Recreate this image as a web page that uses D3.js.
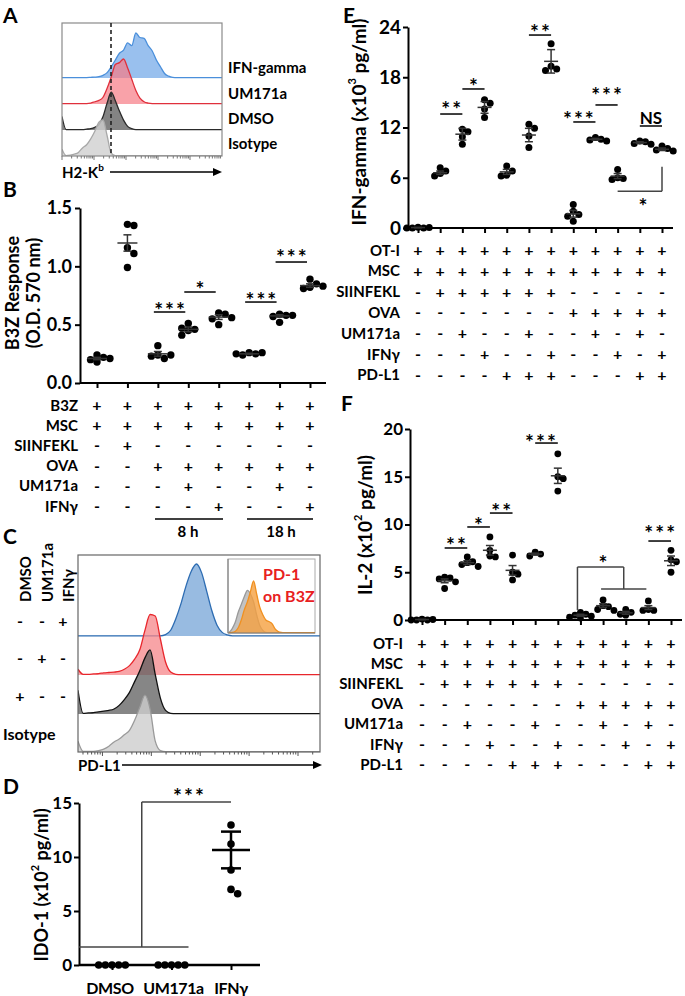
<!DOCTYPE html>
<html><head><meta charset="utf-8">
<script src="https://cdn.jsdelivr.net/npm/d3@7"></script>
<style>body{margin:0;background:#fff;}</style>
</head><body>
<svg id="c" width="685" height="996" xmlns="http://www.w3.org/2000/svg"></svg>
<script>
// ---------------- DATA ----------------
// Panel A: H2-Kb histograms (% of mode per bin)
const histA_IFNg   = [1,1,1,1,1,1,1,1.5,2,3,6,12,25,40,55,62,78,72,100,90,88,72,60,40,25,10,4,1.5,1,1,1,1,1,1,1,1,1,1,1,1];
const histA_UM171a = [1,1,1,1,1,1,1,2,5,8,15,35,60,88,92,100,80,55,30,13,5,2,1,1,1,1,1,1,1,1,1,1,1,1,1,1,1,1,1,1];
const histA_DMSO   = [30,1,1,1,1,1,2,3,6,12,30,60,84,65,42,22,8,3,1,1,1,1,1,1,1,1,1,1,1,1,1,1,1,1,1,1,1,1,1,1];
const histA_Iso    = [15,1,2,4,8,18,25,38,55,75,80,45,6,1,1,1,1,1,1,1,1,1,1,1,1,1,1,1,1,1,1,1,1,1,1,1,1,1,1,1];
const labelsA = ["IFN-gamma","UM171a","DMSO","Isotype"];

// Panel B
const rowsB = ["B3Z","MSC","SIINFEKL","OVA","UM171a","IFNγ"];
const signsB = ["++++++++","++++++++","-+------","--++++++","---+--+-","----+--+"];
const valuesB = [
  [0.24,0.22,0.20,0.18,0.21],
  [1.36,1.35,1.16,1.11,0.99],
  [0.32,0.24,0.21,0.23,0.24],
  [0.51,0.46,0.45,0.41,0.47],
  [0.60,0.59,0.55,0.50,0.56],
  [0.26,0.25,0.24,0.26,0.25],
  [0.59,0.58,0.57,0.58,0.52],
  [0.89,0.85,0.82,0.81,0.83]
];
const meansB = [0.21,1.20,0.25,0.46,0.565,0.25,0.575,0.835];
const semsB  = [0.01,0.07,0.02,0.02,0.02,0.005,0.01,0.015];
const ticksB = [0,0.5,1.0,1.5];
const sigB = [
  {a:2,b:3,line:0.608,text:0.66,t:"***"},
  {a:3,b:4,line:0.78,text:0.84,t:"*"},
  {a:5,b:6,line:0.694,text:0.745,t:"***"},
  {a:6,b:7,line:1.037,text:1.114,t:"***"}
];
const timeLabelsB = ["8 h","18 h"];

// Panel C: PD-L1 histograms
const histC_IFNg   = [0.3,0.3,0.3,0.3,0.3,0.3,0.3,0.3,0.3,0.3,0.3,0.3,0.3,0.3,0.3,0.3,0.3,2,8,24,45,70,90,100,88,62,35,15,5,1.5,0.3,0.3,0.3,0.3,0.3,0.3,0.3,0.3,0.3,0.3,0.3,0.3,0.3,0.3,0.3,0.3,0.3,0.3];
const histC_UM171a = [8,1,1,1.5,2,3,3.5,4,5,8,13,22,35,62,84,82,50,18,4,1,0.5,0.5,0.5,0.5,0.5,0.5,0.5,0.5,0.5,0.5,0.5,0.5,0.5,0.5,0.5,0.5,0.5,0.5,0.5,0.5,0.5,0.5,0.5,0.5,0.5,0.5,0.5,0.5];
const histC_DMSO   = [33,1,1.5,2,3,4,5,7,12,20,30,45,60,78,89,55,22,5,1,0.5,0.5,0.5,0.5,0.5,0.5,0.5,0.5,0.5,0.5,0.5,0.5,0.5,0.5,0.5,0.5,0.5,0.5,0.5,0.5,0.5,0.5,0.5,0.5,0.5,0.5,0.5,0.5,0.5];
const histC_Iso    = [15,1,1,1,2,4,8,14,18,24,30,44,62,79,60,15,2,0.5,0.5,0.5,0.5,0.5,0.5,0.5,0.5,0.5,0.5,0.5,0.5,0.5,0.5,0.5,0.5,0.5,0.5,0.5,0.5,0.5,0.5,0.5,0.5,0.5,0.5,0.5,0.5,0.5,0.5,0.5];
const insetC_Iso   = [1,8,20,40,55,70,82,75,60,35,15,5,1,0.5,0.5,0.5,0.5,0.5,0.5,0.5,0.5,0.5,0.5,0.5,0.5,0.5,0.5,0.5,0.5];
const insetC_PD1   = [0.5,1,3,10,25,45,60,80,100,75,50,35,25,22,18,8,3,1,0.5,0.5,0.5,0.5,0.5,0.5,0.5,0.5,0.5,0.5,0.5];
const colsC = ["DMSO","UM171a","IFNγ"];
const signsC = [["-","-","+"],["-","+","-"],["+","-","-"]];

// Panel D
const catsD = ["DMSO","UM171a","IFNγ"];
const valuesD = [[0,0,0,0,0],[0,0,0,0,0],[12.96,11.2,8.8,7.0,6.6]];
const meansD = [0,0,10.65];
const semsD  = [0,0,1.7];
const ticksD = [0,5,10,15];

// Panel E
const rowsEF = ["OT-I","MSC","SIINFEKL","OVA","UM171a","IFNγ","PD-L1"];
const signsEF = ["++++++++++++","++++++++++++","-++++++-----","-------+++++","--+--+--+-+-","---+--+--+-+","----+++---++"];
const valuesE = [
  [0.1,0,0,0.05,0],
  [7.2,6.8,6.5,6.2],
  [11.8,11.5,10.9,10.0],
  [15.3,14.9,14.2,13.2],
  [7.4,6.8,6.3,6.2],
  [12.4,11.9,11.0,9.6],
  [22.0,19.3,19.0,18.8],
  [2.8,2.0,1.6,1.4,0.8],
  [10.8,10.6,10.5,10.4],
  [7.0,6.0,5.9,5.8],
  [10.4,10.3,10.1,10.0],
  [9.8,9.5,9.3,9.2]
];
const meansE = [0.05,6.6,11.2,14.4,6.7,11.1,19.9,1.7,10.6,6.2,10.2,9.4];
const semsE  = [0.02,0.2,0.7,0.7,0.3,0.8,1.4,0.4,0.1,0.3,0.1,0.15];
const ticksE = [0,6,12,18,24];
const sigE = [
  {a:1,b:2,line:13.61,text:14.69,t:"**"},
  {a:2,b:3,line:16.6,text:17.43,t:"*"},
  {a:5,b:6,line:23.04,text:23.88,t:"**"},
  {a:7,b:8,line:12.66,text:13.49,t:"***",dx:-6},
  {a:8,b:9,line:14.69,text:16.36,t:"***"},
  {a:10,b:11,line:12.18,text:13.25,t:"NS"}
];

// Panel F
const valuesF = [
  [0.1,0,0,0.05,0],
  [4.5,4.4,4.3,4.0,3.3],
  [6.6,6.1,6.0,5.8,5.6],
  [8.7,7.3,6.7,6.6],
  [6.8,5.0,4.8,4.2],
  [7.1,6.9,6.7],
  [17.4,15.0,14.8,13.5],
  [0.8,0.6,0.5,0.4,0.3,0.2],
  [2.1,1.5,1.4,1.1,1.0],
  [1.1,0.8,0.6,0.5],
  [2.0,1.1,1.0,1.0],
  [7.3,6.3,6.1,5.0]
];
const meansF = [0.05,4.1,6.0,7.3,5.2,6.9,15.1,0.5,1.5,0.75,1.3,6.2];
const semsF  = [0.02,0.2,0.2,0.5,0.5,0.1,0.8,0.1,0.2,0.15,0.2,0.5];
const ticksF = [0,5,10,15,20];
const sigF = [
  {a:1,b:2,line:7.54,text:8.27,t:"**"},
  {a:2,b:3,line:9.74,text:10.37,t:"*"},
  {a:3,b:4,line:11.2,text:11.83,t:"**"},
  {a:5,b:6,line:18.53,text:19.06,t:"***",dx:-6},
  {a:10,b:11,line:8.27,text:9.53,t:"***"}
];

// ---------------- DRAW ----------------
const svg = d3.select("#c");
const FF = "Lato, 'Open Sans', 'DejaVu Sans', sans-serif";
function T(x,y,s,o={}){
  const t = svg.append("text").attr("x",x).attr("y",y)
    .attr("font-family",FF).attr("font-weight",700)
    .attr("font-size",o.fs||15).attr("fill",o.fill||"#000")
    .attr("text-anchor",o.anchor||"start").attr("dominant-baseline","central");
  if(o.rot!==undefined) t.attr("transform",`rotate(${o.rot},${x},${y})`);
  if(o.ls) t.attr("letter-spacing",o.ls);
  if(o.dy) t.attr("dy",o.dy);
  if(s!==null) t.text(s);
  return t;
}
function supText(t,pre,sup,post){
  t.append("tspan").text(pre);
  t.append("tspan").attr("font-size",11).attr("dy",-7).text(sup);
  t.append("tspan").attr("dy",7).text(post);
}
function L(x1,y1,x2,y2,c="#000",w=1.5){
  svg.append("line").attr("x1",x1).attr("y1",y1).attr("x2",x2).attr("y2",y2).attr("stroke",c).attr("stroke-width",w);
}
function stars(x,y,s,fs=21){
  if(s==="NS") return T(x,y,s,{fs:17,anchor:"middle"});
  return T(x+1,y,s,{fs,anchor:"middle",ls:2,dy:"0.17em"});
}
function arrow(x1,x2,y){
  L(x1,y,x2-6,y,"#000",1.5);
  svg.append("path").attr("d",`M${x2},${y} L${x2-9},${y-4} L${x2-9},${y+4} Z`).attr("fill","#000");
}
let clipId=0;
function hist(vals,x0,x1,base,hPx,fill,op,stroke,clip){
  const xs = d3.scaleLinear([0,vals.length-1],[x0,x1]);
  const ys = d3.scaleLinear([0,100],[base,base-hPx]);
  const area = d3.area().x((d,i)=>xs(i)).y0(base).y1(d=>ys(d)).curve(d3.curveMonotoneX);
  const line = d3.line().x((d,i)=>xs(i)).y(d=>ys(d)).curve(d3.curveMonotoneX);
  const g = svg.append("g").attr("clip-path",`url(#${clip})`);
  g.append("path").attr("d",area(vals)).attr("fill",fill).attr("fill-opacity",op);
  g.append("path").attr("d",line(vals)).attr("fill","none").attr("stroke",stroke).attr("stroke-width",1.3);
}
function makeClip(x,y,w,h){
  const id="clip"+(clipId++);
  svg.append("clipPath").attr("id",id).append("rect").attr("x",x).attr("y",y).attr("width",w).attr("height",h);
  return id;
}
function logTicks(scale,y,d0,d1,col){
  for(let d=d0; d<=d1; d++){
    for(let m=1;m<=9;m++){
      const v=m*Math.pow(10,d);
      const [a,b]=scale.domain();
      if(v<a||v>b) continue;
      const x=scale(v);
      L(x,y,x,y+(m===1?4:2.5),col,1);
    }
  }
}
function swarm(vals,yScale,r,k){
  const placed=[]; const step=r*k;
  const seq=[0]; for(let i=1;i<12;i++){seq.push(i,-i);}
  return vals.map(v=>{
    const y=yScale(v);
    for(const s of seq){
      const dx=s*step;
      if(placed.every(p=>Math.hypot(p.dx-dx,p.y-y)>=step-0.01)){placed.push({dx,y});return {dx,y};}
    }
    return {dx:0,y};
  });
}
function dots(values,xS,yS,r,k){
  values.forEach((vals,gi)=>{
    swarm(vals,yS,r,k).forEach(p=>{
      svg.append("circle").attr("cx",xS(gi)+p.dx).attr("cy",p.y).attr("r",r).attr("fill","#000");
    });
  });
}
function errbars(means,sems,xS,yS,mw,cw,w,col){
  means.forEach((m,gi)=>{
    const x=xS(gi);
    if(m===0&&sems[gi]===0) return;
    L(x-mw,yS(m),x+mw,yS(m),col,w);
    L(x,yS(m-sems[gi]),x,yS(m+sems[gi]),col,w);
    L(x-cw,yS(m+sems[gi]),x+cw,yS(m+sems[gi]),col,w);
    L(x-cw,yS(m-sems[gi]),x+cw,yS(m-sems[gi]),col,w);
  });
}
function yAxis(yS,x,ticks,fs,fmt,pad){
  const g=svg.append("g").attr("transform",`translate(${x},0)`)
    .call(d3.axisLeft(yS).tickValues(ticks).tickFormat(fmt).tickSize(5).tickSizeOuter(0).tickPadding(pad));
  g.selectAll("text").attr("font-size",fs).attr("font-family",FF).attr("font-weight",700).attr("fill","#000");
  g.selectAll("line").attr("stroke","#000").attr("stroke-width",2);
  g.select(".domain").attr("stroke","#000").attr("stroke-width",2);
}
function xAxis(xS,y,x0,x1,w=2){
  L(x0,y,x1,y,"#000",w);
  const g=svg.append("g").attr("transform",`translate(0,${y})`)
    .call(d3.axisBottom(xS).tickSize(5).tickSizeOuter(0).tickFormat(""));
  g.select(".domain").remove();
  g.selectAll("line").attr("stroke","#000").attr("stroke-width",2);
}
function table(rows,signs,xS,labelX,y0,dy,fs){
  rows.forEach((r,i)=>{
    const y=y0+i*dy;
    T(labelX,y,r,{fs,anchor:"end"});
    signs[i].split("").forEach((s,j)=>T(xS(j),y,s,{fs:16,anchor:"middle"}));
  });
}

// ===== Panel A =====
T(3,14,"A",{fs:21});
{
  const bx0=62,bx1=222,by0=23,by1=156;
  const clip=makeClip(bx0,by0,bx1-bx0,by1-by0);
  const bases=[78,104,130,156];
  hist(histA_IFNg,bx0,bx1,bases[0],45,"#7fb0ea",0.8,"#4a8fdb",clip);
  hist(histA_UM171a,bx0,bx1,bases[1],45,"#f77b85",0.7,"#e0303c",clip);
  hist(histA_DMSO,bx0,bx1,bases[2],45,"#5a5a5a",0.75,"#2a2a2a",clip);
  hist(histA_Iso,bx0,bx1,bases[3],45,"#cfcfcf",0.8,"#a8a8a8",clip);
  svg.append("rect").attr("x",bx0).attr("y",by0).attr("width",bx1-bx0).attr("height",by1-by0)
    .attr("fill","none").attr("stroke","#8a8a8a").attr("stroke-width",1.2);
  svg.append("line").attr("x1",111).attr("x2",111).attr("y1",by0).attr("y2",by1)
    .attr("stroke","#222").attr("stroke-width",1.6).attr("stroke-dasharray","4,3");
  const lx=d3.scaleLog().domain([1,1e5]).range([bx0,bx1]);
  logTicks(lx,by1,0,4,"#777");
  [67,93,118,143].forEach((y,i)=>T(228,y,labelsA[i],{fs:15}));
  const t=T(62,172,null,{fs:15});
  t.append("tspan").text("H2-K");
  t.append("tspan").attr("font-size",10).attr("dy",-5).text("b");
  arrow(110,222,172);
}

// ===== Panel B =====
T(3,188,"B",{fs:21});
{
  const yB=d3.scaleLinear([0,1.5],[383,208]);
  const xB=d3.scalePoint(d3.range(8),[97,310]);
  yAxis(yB,80,ticksB,18,d3.format(".1f"),3);
  xAxis(xB,383,80,326);
  T(12,293,"B3Z Response",{fs:18,anchor:"middle",rot:-90});
  T(33,293,"(O.D. 570 nm)",{fs:18,anchor:"middle",rot:-90});
  dots(valuesB,xB,yB,3.7,1.75);
  errbars(meansB,semsB,xB,yB,10,4,1.5,"#333");
  sigB.forEach(s=>{
    const xa=xB(s.a)-4, xb=xB(s.b)-3;
    L(xa,yB(s.line),xb,yB(s.line),"#000",1.5);
    stars((xa+xb)/2,yB(s.text),s.t);
  });
  table(rowsB,signsB,xB,78,404.5,20.2,15);
  L(155,519,223,519,"#000",1.5); L(247,519,313,519,"#000",1.5);
  T(188,531,timeLabelsB[0],{fs:15,anchor:"middle"});
  T(281,531,timeLabelsB[1],{fs:15,anchor:"middle"});
}

// ===== Panel C =====
T(3,535,"C",{fs:21});
{
  const bx0=78,bx1=320,by0=555,by1=752;
  const clip=makeClip(bx0,by0,bx1-bx0,by1-by0);
  const bases=[636,675,714,752];
  hist(histC_IFNg,bx0,bx1,bases[0],72,"#86afdc",0.85,"#2d6cb2",clip);
  hist(histC_UM171a,bx0,bx1,bases[1],72,"#f5858a",0.75,"#e8262c",clip);
  hist(histC_DMSO,bx0,bx1,bases[2],72,"#5e5e5e",0.75,"#111",clip);
  hist(histC_Iso,bx0,bx1,bases[3],72,"#cdcdcd",0.8,"#9a9a9a",clip);
  svg.append("rect").attr("x",bx0).attr("y",by0).attr("width",bx1-bx0).attr("height",by1-by0)
    .attr("fill","none").attr("stroke","#666").attr("stroke-width",1.2);
  const lx=d3.scaleLog().domain([Math.pow(10,1.5),Math.pow(10,6.45)]).range([bx0,bx1]);
  logTicks(lx,by1,1,6,"#555");
  // inset
  const ix0=228,ix1=315,iy0=559,iy1=633;
  svg.append("rect").attr("x",ix0).attr("y",iy0).attr("width",ix1-ix0).attr("height",iy1-iy0)
    .attr("fill","#fff").attr("stroke","#aaa").attr("stroke-width",1);
  const iclip=makeClip(ix0,iy0,ix1-ix0,iy1-iy0);
  hist(insetC_Iso,ix0+1,ix1,iy1,52,"#bdbdbd",0.9,"#999",iclip);
  hist(insetC_PD1,ix0+1,ix1,iy1,52,"#f5a040",0.8,"#f09020",iclip);
  L(ix0,iy0,ix0,iy1,"#777",1); L(ix0,iy1,ix1,iy1,"#777",1);
  T(263,573,"PD-1",{fs:16,fill:"#e8201e"});
  T(263,595,"on B3Z",{fs:16,fill:"#e8201e"});
  [25,47,68].forEach((x,i)=>T(x,602,colsC[i],{fs:15,rot:-90}));
  [620,657,695].forEach((y,r)=>signsC[r].forEach((s,c)=>T([20,42,63][c],y,s,{fs:16,anchor:"middle"})));
  T(3,733,"Isotype",{fs:16});
  T(78,765,"PD-L1",{fs:15});
  arrow(122,322,765);
}

// ===== Panel D =====
T(3,785,"D",{fs:21});
{
  const yD=d3.scaleLinear([0,15],[965,803]);
  const xD=d3.scalePoint(catsD,[112,231]);
  yAxis(yD,79,ticksD,17,d3.format("d"),2);
  xAxis(xD,965,79,260,2.5);
  supText(T(41,885,null,{fs:18,anchor:"middle",rot:-90}),"IDO-1 (x10","2"," pg/ml)");
  catsD.forEach((c,i)=>T(xD(c)+[-2,2,0][i],987,c,{fs:16,anchor:"middle",ls:-0.4}));
  dots(valuesD,i=>xD(catsD[i]),yD,3.8,1.75);
  errbars(meansD,semsD,i=>xD(catsD[i]),yD,19,10,2.5,"#000");
  const xm=(xD("DMSO")+xD("UM171a"))/2, xr=xD("UM171a")+17;
  L(79,yD(1.67),xr,yD(1.67),"#444",1.5);
  L(xm,yD(1.67),xm,yD(15.1),"#444",1.5);
  L(xm,yD(15.1),xD("IFNγ"),yD(15.1),"#444",1.5);
  stars(xr,yD(16.0),"***");
}

// ===== Panel E =====
T(343,14,"E",{fs:21});
{
  const yE=d3.scaleLinear([0,24],[228,27]);
  const xE=d3.scalePoint(d3.range(12),[418,662]);
  yAxis(yE,408,ticksE,19,d3.format("d"),2);
  xAxis(xE,228,408,673);
  supText(T(358,122,null,{fs:19,anchor:"middle",rot:-90}),"IFN-gamma  (x10","3"," pg/ml)");
  dots(valuesE,xE,yE,3.5,1.6);
  errbars(meansE,semsE,xE,yE,7,4,1.5,"#333");
  sigE.forEach(s=>{
    const xa=xE(s.a), xb=xE(s.b);
    L(xa,yE(s.line),xb,yE(s.line),"#000",1.5);
    stars((xa+xb)/2+(s.dx||0),yE(s.text),s.t);
  });
  L(xE(11),yE(7.3),xE(11),yE(4.4),"#444",1.5);
  L(xE(9),yE(4.4),xE(11),yE(4.4),"#444",1.5);
  stars((xE(10)+xE(11))/2-8,yE(3.1),"*");
  table(rowsEF,signsEF,xE,400,249.5,20.8,15);
}

// ===== Panel F =====
T(341,402,"F",{fs:21});
{
  const yF=d3.scaleLinear([0,20],[620,429]);
  const xF=d3.scalePoint(d3.range(12),[422,671]);
  yAxis(yF,410,ticksF,17,d3.format("d"),2);
  xAxis(xF,620,410,682);
  supText(T(364,525,null,{fs:19,anchor:"middle",rot:-90}),"IL-2 (x10","2"," pg/ml)");
  dots(valuesF,xF,yF,3.4,1.6);
  errbars(meansF,semsF,xF,yF,7,4,1.5,"#333");
  sigF.forEach(s=>{
    const xa=xF(s.a), xb=xF(s.b);
    L(xa,yF(s.line),xb,yF(s.line),"#000",1.5);
    stars((xa+xb)/2+(s.dx||0),yF(s.text),s.t);
  });
  L(xF(7)-3,yF(1.05),xF(7)-3,yF(5.55),"#444",1.5);
  L(xF(7)-3,yF(5.55),xF(9)-2,yF(5.55),"#444",1.5);
  L(xF(9)-2,yF(5.55),xF(9)-2,yF(3.25),"#444",1.5);
  L(xF(8)-2,yF(3.25),xF(10)-2,yF(3.25),"#444",1.5);
  stars(xF(8),yF(6.39),"*");
  table(rowsEF,signsEF,xF,403,642.5,20.2,15);
}
</script>
</body></html>
